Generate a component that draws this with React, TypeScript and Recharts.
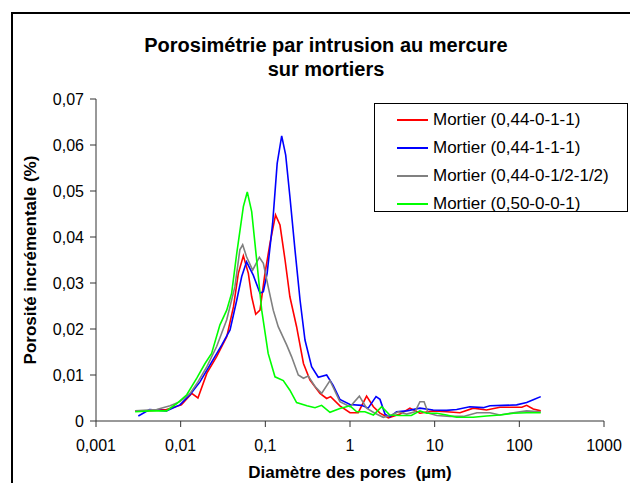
import { LineChart, Line, XAxis, YAxis } from "recharts";

// pore diameter (µm) / incremental porosity (%)
const diamRed = [0.0029, 0.004, 0.0068, 0.0102, 0.0135, 0.016, 0.0204, 0.0266, 0.035, 0.042, 0.048, 0.055, 0.063, 0.069, 0.077, 0.0865, 0.099, 0.1135, 0.132, 0.149, 0.171, 0.195, 0.234, 0.282, 0.337, 0.442, 0.53, 0.59, 0.76, 1.0, 1.25, 1.57, 1.89, 2.26, 2.84, 3.9, 5.1, 6.7, 9.6, 13.8, 19.9, 28.6, 41, 59, 85, 107, 122, 146, 179];
const porRed = [0.0022, 0.0022, 0.0025, 0.0035, 0.006, 0.005, 0.0104, 0.014, 0.0183, 0.0248, 0.0321, 0.0359, 0.0321, 0.027, 0.0232, 0.0241, 0.0321, 0.0386, 0.0448, 0.0426, 0.035, 0.027, 0.0205, 0.0125, 0.0089, 0.006, 0.0049, 0.0053, 0.0033, 0.0018, 0.0018, 0.0054, 0.0031, 0.0017, 0.0007, 0.0015, 0.0028, 0.0017, 0.0022, 0.002, 0.0018, 0.0028, 0.0024, 0.003, 0.003, 0.003, 0.0034, 0.0026, 0.0022];

const diamBlue = [0.00316, 0.0043, 0.0068, 0.0098, 0.0129, 0.0169, 0.0222, 0.0305, 0.0383, 0.046, 0.0526, 0.06, 0.072, 0.0865, 0.0947, 0.105, 0.122, 0.138, 0.156, 0.174, 0.195, 0.224, 0.257, 0.294, 0.352, 0.422, 0.53, 0.63, 0.76, 1.0, 1.37, 1.64, 2.03, 2.26, 2.59, 2.95, 3.55, 4.68, 6.7, 9.6, 13.8, 18.2, 26, 37.5, 45, 64, 93, 122, 146, 179];
const porBlue = [0.0011, 0.0025, 0.0022, 0.0035, 0.0057, 0.0085, 0.0122, 0.0165, 0.0198, 0.0263, 0.0314, 0.0346, 0.0317, 0.0278, 0.0281, 0.0321, 0.043, 0.056, 0.062, 0.0578, 0.0488, 0.0372, 0.0263, 0.0176, 0.0118, 0.0095, 0.01, 0.0078, 0.0047, 0.0036, 0.0034, 0.0028, 0.0053, 0.0047, 0.0015, 0.0009, 0.002, 0.0022, 0.0028, 0.0024, 0.0023, 0.0025, 0.0031, 0.0029, 0.0033, 0.0034, 0.0035, 0.004, 0.0046, 0.0053];

const diamGray = [0.0029, 0.0052, 0.0075, 0.0098, 0.0129, 0.016, 0.0204, 0.0266, 0.035, 0.0437, 0.05, 0.054, 0.06, 0.0708, 0.085, 0.0947, 0.108, 0.124, 0.142, 0.179, 0.204, 0.245, 0.282, 0.321, 0.386, 0.462, 0.58, 0.76, 1.0, 1.29, 1.57, 1.97, 2.47, 3.1, 3.72, 4.68, 5.85, 6.7, 7.5, 8.4, 10.6, 15.2, 21.9, 31.6, 45, 59, 85, 122, 179];
const porGray = [0.0022, 0.0025, 0.0033, 0.0042, 0.006, 0.0085, 0.0118, 0.0162, 0.022, 0.0292, 0.0372, 0.0383, 0.0357, 0.0328, 0.0356, 0.0343, 0.0292, 0.0241, 0.0205, 0.0165, 0.014, 0.01, 0.0093, 0.0098, 0.0075, 0.006, 0.0088, 0.0042, 0.0031, 0.0054, 0.0028, 0.0017, 0.0008, 0.0013, 0.002, 0.0015, 0.002, 0.0042, 0.0042, 0.0017, 0.0012, 0.001, 0.001, 0.0018, 0.0018, 0.0013, 0.0018, 0.0022, 0.002];

const diamGreen = [0.0029, 0.0043, 0.0068, 0.009, 0.0118, 0.0155, 0.0194, 0.0232, 0.0291, 0.035, 0.04, 0.046, 0.055, 0.0612, 0.069, 0.079, 0.0906, 0.108, 0.13, 0.163, 0.195, 0.234, 0.31, 0.386, 0.462, 0.58, 0.76, 1.0, 1.2, 1.5, 1.89, 2.37, 2.95, 3.9, 5.3, 6.7, 8.05, 10.6, 13.8, 18.2, 28.6, 41, 59, 85, 122, 179];
const porGreen = [0.002, 0.0022, 0.0022, 0.0038, 0.0057, 0.0093, 0.0125, 0.0147, 0.0209, 0.0241, 0.0278, 0.0365, 0.0466, 0.0498, 0.0455, 0.035, 0.0241, 0.0147, 0.0096, 0.0088, 0.0067, 0.004, 0.0033, 0.0029, 0.0034, 0.0019, 0.0027, 0.0033, 0.002, 0.002, 0.0013, 0.0031, 0.0013, 0.0012, 0.0012, 0.0022, 0.0017, 0.0017, 0.0013, 0.0008, 0.0008, 0.0011, 0.0013, 0.0017, 0.0018, 0.0018];

const xTicks = [0.001, 0.01, 0.1, 1, 10, 100, 1000];
const yTicks = [0, 0.01, 0.02, 0.03, 0.04, 0.05, 0.06, 0.07];

const seriesNames = [
  "Mortier (0,44-0-1-1)",
  "Mortier (0,44-1-1-1)",
  "Mortier (0,44-0-1/2-1/2)",
  "Mortier (0,50-0-0-1)",
];
const seriesColors = ["#ff0000", "#0000ff", "#808080", "#00ff00"];

const toPoints = (diam: number[], por: number[]) =>
  diam.map((d, i) => ({ d, v: por[i] }));

const series = [
  toPoints(diamRed, porRed),
  toPoints(diamBlue, porBlue),
  toPoints(diamGray, porGray),
  toPoints(diamGreen, porGreen),
];

const FONT = '"Liberation Sans", Arial, sans-serif';
const axisColor = "#333";

const fmtX = (v: number) => String(v).replace(".", ",");
const fmtY = (v: number) => (v === 0 ? "0" : v.toFixed(2).replace(".", ","));

function LegendBox() {
  return (
    <div
      style={{
        position: "absolute",
        left: 374,
        top: 103,
        width: 254,
        height: 109,
        boxSizing: "border-box",
        border: "1px solid #000",
        background: "#fff",
        paddingTop: 2,
      }}
    >
      {seriesNames.map((name, i) => (
        <div key={name} style={{ display: "flex", alignItems: "center", height: 28 }}>
          <div style={{ marginLeft: 22, width: 31, height: 2, background: seriesColors[i] }} />
          <span style={{ marginLeft: 5, fontSize: 17, color: "#000" }}>{name}</span>
        </div>
      ))}
    </div>
  );
}

export default function App() {
  return (
    <div
      style={{
        position: "fixed",
        left: 0,
        top: 0,
        width: 630,
        height: 483,
        overflow: "hidden",
        background: "#fff",
        fontFamily: FONT,
      }}
    >
      <div
        style={{
          position: "absolute",
          left: 11,
          top: 12,
          width: 700,
          height: 600,
          border: "2px solid #000",
        }}
      />
      <div
        style={{
          position: "absolute",
          left: 0,
          top: 33,
          width: 652,
          textAlign: "center",
          fontSize: 20,
          fontWeight: "bold",
          lineHeight: "24px",
          color: "#000",
        }}
      >
        Porosimétrie par intrusion au mercure
        <br />
        sur mortiers
      </div>
      <div style={{ position: "absolute", left: 0, top: 0 }}>
        <LineChart width={630} height={483} margin={{ top: 99, right: 26, bottom: 32, left: 26 }}>
          <XAxis
            dataKey="d"
            type="number"
            scale="log"
            domain={[0.001, 1000]}
            ticks={xTicks}
            allowDataOverflow
            height={30}
            tickFormatter={fmtX}
            tickSize={6}
            tickMargin={13}
            stroke={axisColor}
            tick={{ fill: "#000", fontSize: 16, fontFamily: FONT }}
            label={{
              value: "Diamètre des pores\u00a0 (µm)",
              position: "bottom",
              offset: 15,
              style: { fontWeight: "bold", fontSize: 17, fill: "#000", fontFamily: FONT },
            }}
          />
          <YAxis
            type="number"
            domain={[0, 0.07]}
            ticks={yTicks}
            width={70}
            tickFormatter={fmtY}
            tickSize={6}
            tickMargin={6}
            stroke={axisColor}
            tick={{ fill: "#000", fontSize: 16, fontFamily: FONT }}
            label={{
              value: "Porosité incrémentale (%)",
              angle: -90,
              position: "insideLeft",
              offset: 4,
              style: { textAnchor: "middle", fontWeight: "bold", fontSize: 17, fill: "#000", fontFamily: FONT },
            }}
          />
          {series.map((pts, i) => (
            <Line
              key={seriesNames[i]}
              data={pts}
              dataKey="v"
              name={seriesNames[i]}
              type="linear"
              stroke={seriesColors[i]}
              strokeWidth={1.6}
              dot={false}
              isAnimationActive={false}
            />
          ))}
        </LineChart>
      </div>
      <LegendBox />
    </div>
  );
}
